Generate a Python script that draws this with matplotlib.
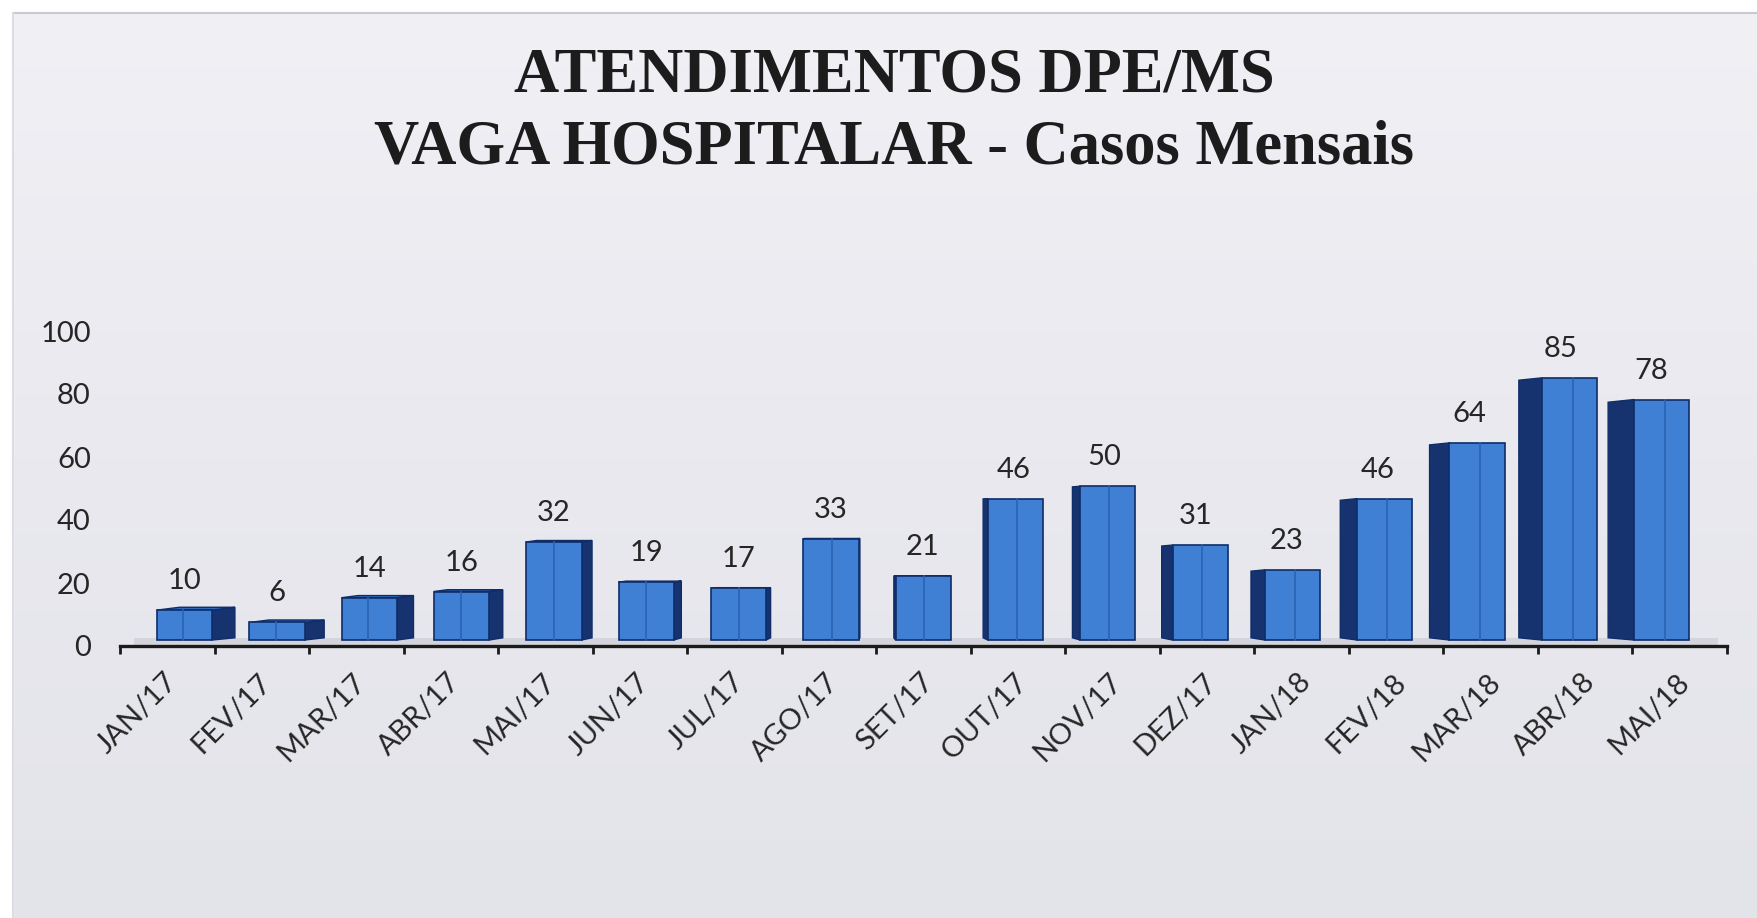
import numpy as np
import matplotlib
matplotlib.use('Agg')
import matplotlib.pyplot as plt
from matplotlib.colors import LinearSegmentedColormap

# data
months = ["JAN/17", "FEV/17", "MAR/17", "ABR/17", "MAI/17", "JUN/17", "JUL/17", "AGO/17",
          "SET/17", "OUT/17", "NOV/17", "DEZ/17", "JAN/18", "FEV/18", "MAR/18", "ABR/18", "MAI/18"]
casos = [10, 6, 14, 16, 32, 19, 17, 33, 21, 46, 50, 31, 23, 46, 64, 85, 78]
y_ticks = [0, 20, 40, 60, 80, 100]
title_1 = "ATENDIMENTOS DPE/MS"
title_2 = "VAGA HOSPITALAR - Casos Mensais"

W, H = 1758, 918
fig = plt.figure(figsize=(W / 100, H / 100), dpi=100)

# background (scanned slide look)
bg = fig.add_axes([0, 0, 1, 1])
bg.set_axis_off()
grad = np.linspace(0, 1, 256).reshape(-1, 1)
bg_cmap = LinearSegmentedColormap.from_list('bg', ['#f0f0f5', '#e9e9ef', '#e3e3ea'])
bg.imshow(grad, aspect='auto', cmap=bg_cmap, extent=[0, 1, 0, 1])
bg.axvspan(0, 13 / W, color='white')
bg.axhspan(1 - 13 / H, 1, color='white')
bg.plot([13 / W, 1], [1 - 13 / H, 1 - 13 / H], color='#c9c9d0', lw=1.5)
bg.plot([13 / W, 13 / W], [0, 1 - 13 / H], color='#dcdce2', lw=1.5)
bg.set_xlim(0, 1)
bg.set_ylim(0, 1)

# titles
tfont = dict(family='Liberation Serif', weight='bold', size=45, color='#1c1c1c')
fig.text(894 / W, 1 - 92 / H, title_1, ha='center', va='baseline', **tfont)
fig.text(894 / W, 1 - 163 / H, title_2, ha='center', va='baseline', **tfont)

# main axes, placed so 0 sits at y=646px and 3.15 px per unit
y0_px, px_per = 646, 3.15
ymin, ymax = -20, 105
x_left, x_right = 120, 1727
ax = fig.add_axes([x_left / W, (H - (y0_px - ymin * px_per)) / H,
                   (x_right - x_left) / W, (ymax - ymin) * px_per / H])
ax.set_facecolor('none')
n = len(months)
ax.set_xlim(-0.5, n - 0.5)
ax.set_ylim(ymin, ymax)

lab_font = dict(family=['Lato', 'DejaVu Sans'], size=21, color='#262626')

# floor of the 3d chart
ax.fill_between([-0.35, n - 0.6], 0, 2.6, color='#d4d4dc', zorder=1, lw=0)

front = '#3f80d4'
side = '#16336f'
topc = '#2e68bb'
edge = '#0f2d68'
w = 0.585
for i, v in enumerate(casos):
    xc = 0.183 + 0.9767 * i
    d = 0.24 - 0.0322 * i
    dyt = 0.9 - 0.11 * i
    dyb = 0.7
    xl, xr = xc - w / 2, xc + w / 2
    bot = 1.9
    top = 1.57 + 0.983 * v
    xs = xr if d > 0 else xl
    ax.fill([xs, xs + d, xs + d, xs], [bot, bot + dyb, top + dyt, top],
            color=side, ec=edge, lw=1.0, zorder=3)
    if dyt > 0:
        ax.fill([xl, xl + d, xr + d, xr], [top, top + dyt, top + dyt, top],
                color=topc, ec=edge, lw=1.0, zorder=3)
    ax.fill([xl, xr, xr, xl], [bot, bot, top, top],
            color=front, ec=edge, lw=1.2, zorder=4)
    xm = xl + w * (0.47 + 0.006 * i)
    ax.plot([xm, xm], [bot, top], color='#2a62b2', lw=1.2, zorder=5)
    lx = xc + (0.4 * d if d < 0 else 0)
    ax.text(lx, top + 9.2, str(v), ha='center', va='center', zorder=6, **lab_font)

# category labels
for i, m in enumerate(months):
    ax.text(i - 0.04, -7.2, m, rotation=45, rotation_mode='anchor',
            ha='right', va='top', **lab_font)

# axes styling
for s in ['left', 'right', 'top']:
    ax.spines[s].set_visible(False)
ax.spines['bottom'].set_position(('data', 0))
ax.spines['bottom'].set_linewidth(2.4)
ax.spines['bottom'].set_color('#1a1a1a')
ax.set_xticks(np.arange(-0.5, n, 1.0))
ax.set_xticklabels([])
ax.tick_params(axis='x', direction='out', length=6, width=2, color='#1a1a1a')
ax.set_yticks(y_ticks)
ax.set_yticklabels([str(t) for t in y_ticks], fontfamily='Lato', fontsize=21, color='#262626')
ax.tick_params(axis='y', length=0, pad=21)

fig.savefig('out.png', dpi=100)
